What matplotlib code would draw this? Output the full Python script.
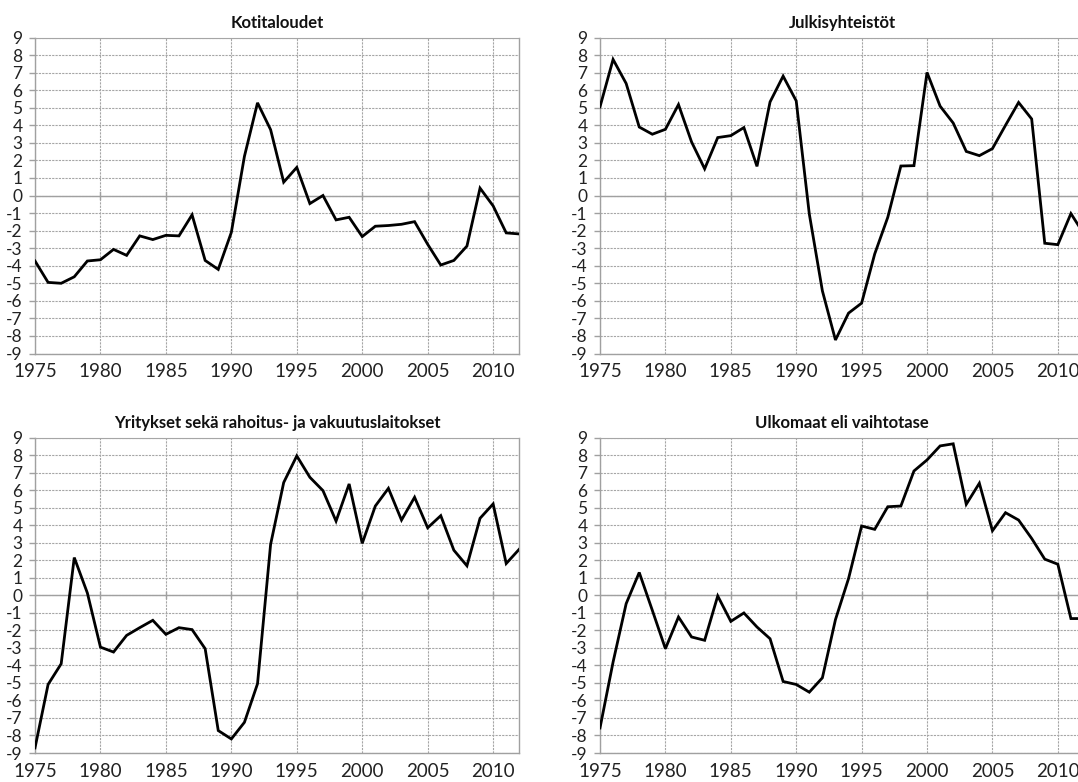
import matplotlib
matplotlib.use("Agg")
import matplotlib.pyplot as plt

plt.rcParams['font.family'] = ['Lato', 'DejaVu Sans']

years = list(range(1975, 2013))

titles = ["Kotitaloudet", "Julkisyhteistöt",
          "Yritykset sekä rahoitus- ja vakuutuslaitokset", "Ulkomaat eli vaihtotase"]

kotitaloudet = [-3.73, -4.95, -5.0, -4.63, -3.73, -3.66, -3.07, -3.41, -2.3, -2.51,
                -2.27, -2.3, -1.1, -3.7, -4.21, -2.1, 2.23, 5.28, 3.75, 0.76,
                1.6, -0.46, 0.0, -1.39, -1.24, -2.34, -1.75, -1.71, -1.64, -1.49,
                -2.78, -3.96, -3.7, -2.88, 0.42, -0.59, -2.13, -2.19]

julkisyhteisot = [5.05, 7.75, 6.38, 3.9, 3.49, 3.77, 5.18, 3.05, 1.52, 3.3,
                  3.41, 3.87, 1.66, 5.33, 6.8, 5.39, -1.05, -5.43, -8.23, -6.7,
                  -6.13, -3.33, -1.24, 1.68, 1.7, 7.01, 5.09, 4.13, 2.51, 2.27,
                  2.67, 4.0, 5.3, 4.36, -2.72, -2.8, -1.03, -2.2]

yritykset = [-8.71, -5.09, -3.91, 2.15, 0.13, -2.96, -3.24, -2.29, -1.85, -1.43,
             -2.23, -1.85, -1.96, -3.05, -7.72, -8.2, -7.25, -5.05, 2.9, 6.43,
             7.95, 6.73, 5.97, 4.23, 6.35, 2.96, 5.09, 6.1, 4.29, 5.59,
             3.85, 4.54, 2.57, 1.68, 4.39, 5.21, 1.81, 2.63]

ulkomaat = [-7.57, -3.81, -0.48, 1.3, -0.86, -3.05, -1.24, -2.38, -2.57, -0.04,
            -1.49, -1.01, -1.81, -2.48, -4.92, -5.09, -5.53, -4.71, -1.39, 0.95,
            3.95, 3.76, 5.05, 5.09, 7.09, 7.72, 8.52, 8.64, 5.19, 6.39,
            3.68, 4.71, 4.29, 3.24, 2.06, 1.77, -1.33, -1.33]

series = [kotitaloudet, julkisyhteisot, yritykset, ulkomaat]

x_ticks = [1975, 1980, 1985, 1990, 1995, 2000, 2005, 2010]
y_ticks = list(range(-9, 10))

W, H = 1078, 782
fig = plt.figure(figsize=(W / 100, H / 100), dpi=100)
fig.patch.set_facecolor('white')

# pixel boxes: (left, top, right, bottom)
boxes = [
    (35, 37.5, 519.3, 353.5),
    (600, 37.5, 1084, 353.5),
    (35, 437.5, 519.3, 753),
    (600, 437.5, 1084, 753),
]

grid_col = '#a6a6a6'
axis_col = '#a0a0a0'

for box, title, vals in zip(boxes, titles, series):
    l, t, r, b = box
    ax = fig.add_axes([l / W, (H - b) / H, (r - l) / W, (b - t) / H])
    ax.set_xlim(1975, 2012)
    ax.set_ylim(-9, 9)
    ax.set_xticks(x_ticks)
    ax.set_yticks(y_ticks)
    ax.set_xticklabels([str(v) for v in x_ticks], fontsize=13.5, color='#222222')
    ax.set_yticklabels([str(v) for v in y_ticks], fontsize=12.5, color='#222222')
    ax.tick_params(axis='x', length=0, pad=7)
    ax.tick_params(axis='y', length=4, width=1, color=axis_col, pad=5)
    ax.grid(True, color=grid_col, linestyle=(0, (2, 1)), linewidth=0.8)
    ax.set_axisbelow(True)
    for s in ['left', 'bottom', 'right']:
        ax.spines[s].set_color(axis_col)
        ax.spines[s].set_linewidth(1.0)
    ax.spines['top'].set_color(grid_col)
    ax.spines['top'].set_linestyle((0, (2, 1)))
    ax.spines['top'].set_linewidth(0.8)
    ax.axhline(0, color=axis_col, linewidth=1.0, zorder=1.5)
    for xt in x_ticks[1:]:
        ax.axvline(xt, ymin=0.49, ymax=0.51, color=axis_col, linewidth=1.0, zorder=1.5)
    ax.plot(years, vals, color='black', linewidth=2.0, solid_joinstyle='miter', zorder=3)
    ax.set_title(title, fontsize=12, fontweight='bold', pad=7, color='#111111')

fig.savefig('out.png', dpi=100)
